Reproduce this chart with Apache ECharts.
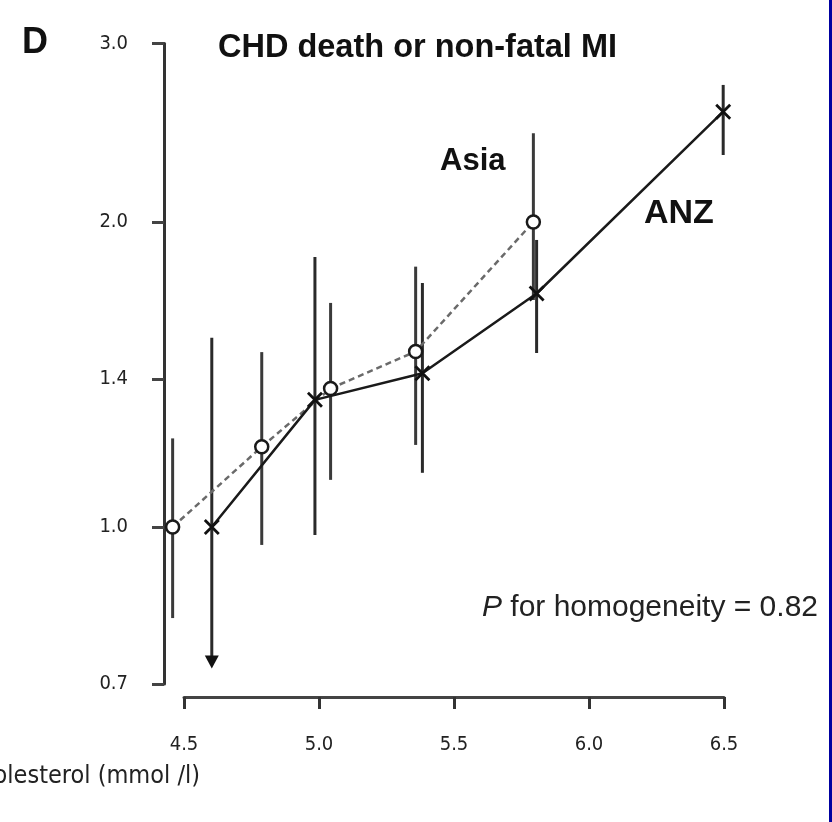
<!DOCTYPE html>
<html>
<head>
<meta charset="utf-8">
<script src="https://cdn.jsdelivr.net/npm/echarts@6/dist/echarts.min.js"></script>
<style>
  html, body { margin: 0; padding: 0; background: #fff; }
  #chart { width: 832px; height: 822px; }
</style>
</head>
<body>
<div id="chart"></div>
<script>
// Tick values
const xTicks = [4.5, 5.0, 5.5, 6.0, 6.5];
const yTicks = [0.7, 1.0, 1.4, 2.0, 3.0];

// Asia: mean total cholesterol per group, relative risk and 95% CI
const asiaX = [4.458, 4.788, 5.043, 5.358, 5.794];
const asiaRR = [1.0, 1.20, 1.37, 1.49, 2.0];
const asiaLow = [0.813, 0.96, 1.113, 1.205, 1.675];
const asiaHigh = [1.223, 1.488, 1.664, 1.807, 2.447];

// ANZ: mean total cholesterol per group, relative risk and 95% CI
const anzX = [4.603, 4.985, 5.383, 5.806, 6.497];
const anzRR = [1.0, 1.335, 1.418, 1.70, 2.57];
const anzLow = [0.725, 0.982, 1.131, 1.485, 2.329];
const anzHigh = [1.537, 1.847, 1.741, 1.92, 2.731];
// lower limit runs off the axis: drawn with an arrow head
const anzLowTruncated = [true, false, false, false, false];

const fmt1 = v => Number(v).toFixed(1);
const tickFont = '"DejaVu Sans Condensed", "Liberation Sans", Arial, sans-serif';
const sans = '"Liberation Sans", Arial, sans-serif';

function ciData(xs, lo, hi, trunc) {
  return xs.map((x, i) => [x, lo[i], hi[i], trunc && trunc[i] ? 1 : 0]);
}

function renderCI(color, width) {
  return function (params, api) {
    const x = api.value(0);
    const top = api.coord([x, api.value(2)]);
    const bot = api.coord([x, api.value(1)]);
    const children = [];
    if (api.value(3)) {
      const ah = 13, aw = 7;
      children.push({
        type: 'line',
        shape: { x1: top[0], y1: top[1], x2: bot[0], y2: bot[1] - ah + 2 },
        style: { stroke: color, lineWidth: width }
      });
      children.push({
        type: 'polygon',
        shape: { points: [[bot[0] - aw, bot[1] - ah], [bot[0] + aw, bot[1] - ah], [bot[0], bot[1]]] },
        style: { fill: '#111' }
      });
    } else {
      children.push({
        type: 'line',
        shape: { x1: top[0], y1: top[1], x2: bot[0], y2: bot[1] },
        style: { stroke: color, lineWidth: width }
      });
    }
    return { type: 'group', children };
  };
}

const crossPath = 'path://M0,0L10,10M10,0L0,10';

const chart = echarts.init(document.getElementById('chart'), null, { renderer: 'canvas' });

chart.setOption({
  backgroundColor: '#fff',
  animation: false,
  grid: [
    { left: 164, right: 108, top: 43.6, bottom: 138.1, containLabel: false, outerBoundsMode: 'none' },
    { left: 184, right: 108, top: 43.6, bottom: 125, containLabel: false, outerBoundsMode: 'none' }
  ],
  xAxis: [
    { gridIndex: 0, type: 'value', min: 4.426, max: 6.5, show: false },
    {
      gridIndex: 1, type: 'value', min: 4.5, max: 6.5, interval: 0.5,
      axisLine: { show: true, lineStyle: { color: '#444', width: 3 } },
      axisTick: { show: true, inside: false, length: 12, lineStyle: { color: '#333', width: 3 } },
      axisLabel: {
        formatter: fmt1, margin: 38, color: '#222',
        fontFamily: tickFont, fontSize: 20
      },
      splitLine: { show: false }
    }
  ],
  yAxis: [
    {
      gridIndex: 0, type: 'log', logBase: 10, min: 0.7, max: 3.0,
      axisLine: { show: true, lineStyle: { color: '#333', width: 3 } },
      axisTick: { show: true, inside: false, length: 12, customValues: yTicks, lineStyle: { color: '#444', width: 3 } },
      axisLabel: {
        customValues: yTicks, formatter: fmt1, margin: 36, color: '#222',
        fontFamily: tickFont, fontSize: 20
      },
      splitLine: { show: false },
      minorTick: { show: false }
    },
    { gridIndex: 1, type: 'value', min: 0, max: 1, show: false }
  ],
  series: [
    {
      type: 'custom', name: 'Asia CI', xAxisIndex: 0, yAxisIndex: 0,
      renderItem: renderCI('#3a3a3a', 3),
      encode: { x: 0, y: [1, 2] },
      data: ciData(asiaX, asiaLow, asiaHigh),
      z: 2
    },
    {
      type: 'custom', name: 'ANZ CI', xAxisIndex: 0, yAxisIndex: 0,
      renderItem: renderCI('#2a2a2a', 3),
      encode: { x: 0, y: [1, 2] },
      data: ciData(anzX, anzLow, anzHigh, anzLowTruncated),
      z: 2
    },
    {
      type: 'line', name: 'Asia', xAxisIndex: 0, yAxisIndex: 0,
      data: asiaX.map((x, i) => [x, asiaRR[i]]),
      lineStyle: { color: '#6a6a6a', width: 2.5, type: [6, 4] },
      symbol: 'circle', symbolSize: 13,
      itemStyle: { color: '#fff', borderColor: '#1a1a1a', borderWidth: 2.5 },
      z: 4
    },
    {
      type: 'line', name: 'ANZ', xAxisIndex: 0, yAxisIndex: 0,
      data: anzX.map((x, i) => [x, anzRR[i]]),
      lineStyle: { color: '#1a1a1a', width: 2.5 },
      symbol: crossPath, symbolSize: 14,
      itemStyle: { color: '#111', borderColor: '#111', borderWidth: 2.8 },
      z: 5
    }
  ],
  graphic: [
    { type: 'rect', left: 829, top: 0, shape: { width: 3, height: 822 }, style: { fill: '#0000a0' }, z: 10 },
    {
      type: 'text', x: 22, y: 43,
      style: { text: 'D', font: 'bold 36px ' + sans, fill: '#111', textVerticalAlign: 'middle' }
    },
    {
      type: 'text', x: 218, y: 48,
      style: { text: 'CHD death or non-fatal MI', font: 'bold 32.5px ' + sans, fill: '#111', textVerticalAlign: 'middle' }
    },
    {
      type: 'text', x: 440, y: 161,
      style: { text: 'Asia', font: 'bold 31px ' + sans, fill: '#111', textVerticalAlign: 'middle' }
    },
    {
      type: 'text', x: 644, y: 214,
      style: { text: 'ANZ', font: 'bold 34px ' + sans, fill: '#111', textVerticalAlign: 'middle' }
    },
    {
      type: 'text', x: 818, y: 608,
      style: {
        text: '{p|P} for homogeneity = 0.82',
        font: '30px ' + sans, fill: '#222',
        textAlign: 'right', textVerticalAlign: 'middle',
        rich: { p: { fontStyle: 'italic', fontSize: 30, fontFamily: sans, fill: '#222' } }
      }
    },
    {
      type: 'text', x: 200, y: 776,
      style: { text: 'cholesterol (mmol /l)', font: '25px ' + tickFont, fill: '#222', textAlign: 'right', textVerticalAlign: 'middle' }
    }
  ]
});
</script>
</body>
</html>
